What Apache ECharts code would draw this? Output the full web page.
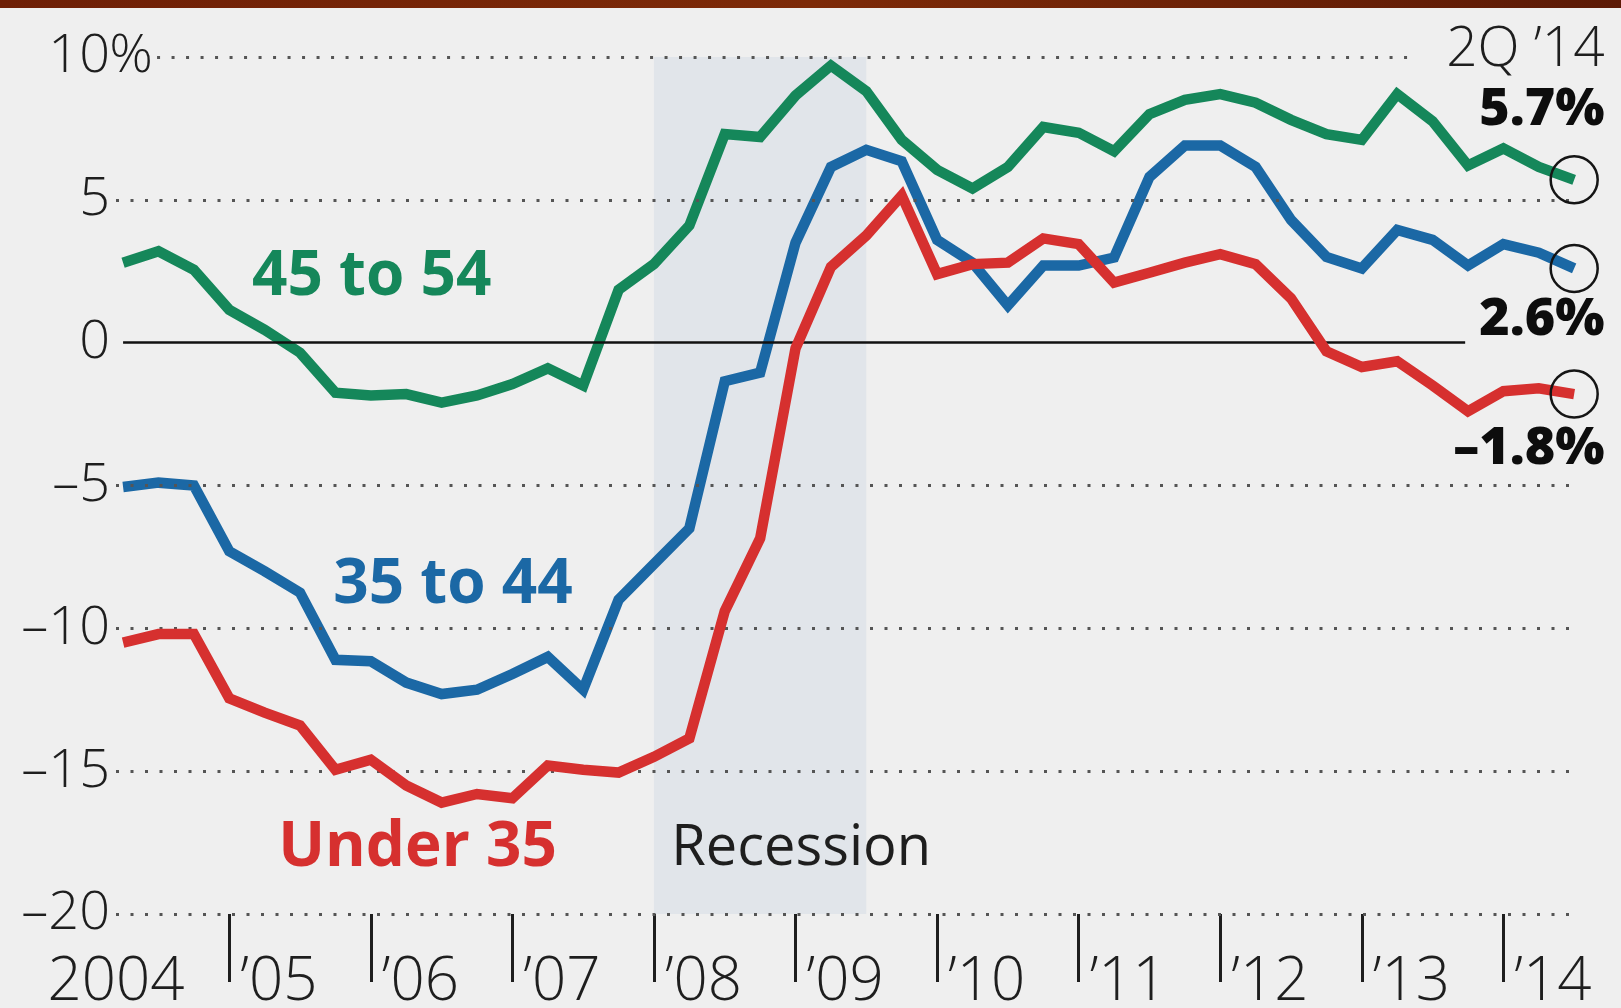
<!DOCTYPE html>
<html>
<head>
<meta charset="utf-8">
<script src="https://cdn.jsdelivr.net/npm/echarts@6/dist/echarts.min.js"></script>
<style>
html,body{margin:0;padding:0;background:#efefef;}
#chart{width:1621px;height:1008px;}
</style>
</head>
<body>
<div id="chart"></div>
<script>
// ---- data (quarterly, 1Q 2004 .. 2Q 2014), % change ----
const yearLabels = ['2004', '\u201905', '\u201906', '\u201907', '\u201908', '\u201909', '\u201910', '\u201911', '\u201912', '\u201913', '\u201914'];
const yTickValues = [-20, -15, -10, -5, 0, 5, 10];
const seriesNames = ['45 to 54', '35 to 44', 'Under 35'];
const age45to54 = [2.8, 3.2, 2.55, 1.15, 0.45, -0.35, -1.75, -1.85, -1.8, -2.1, -1.85, -1.45, -0.9, -1.5,
  1.85, 2.75, 4.1, 7.3, 7.2, 8.65, 9.7, 8.8, 7.1, 6.05, 5.4, 6.15, 7.55, 7.35, 6.7, 8.0, 8.5, 8.7, 8.4,
  7.8, 7.3, 7.1, 8.7, 7.75, 6.2, 6.8, 6.15, 5.7];
const age35to44 = [-5.05, -4.9, -5.0, -7.3, -8.0, -8.75, -11.1, -11.15, -11.9, -12.3, -12.15, -11.6, -11.0, -12.15,
  -9.0, -7.75, -6.5, -1.35, -1.05, 3.5, 6.15, 6.75, 6.35, 3.6, 2.8, 1.3, 2.7, 2.7, 2.98, 5.8, 6.9, 6.9, 6.15,
  4.3, 3.0, 2.6, 3.95, 3.6, 2.7, 3.45, 3.15, 2.6];
const under35 = [-10.5, -10.2, -10.2, -12.45, -12.95, -13.4, -14.95, -14.6, -15.5, -16.1, -15.8, -15.95, -14.8, -14.95,
  -15.05, -14.5, -13.85, -9.4, -6.85, -0.2, 2.65, 3.75, 5.15, 2.4, 2.75, 2.8, 3.65, 3.45, 2.1, 2.45, 2.8, 3.1, 2.75,
  1.55, -0.3, -0.85, -0.65, -1.5, -2.4, -1.7, -1.6, -1.8];
const latestLabels = ['5.7%', '2.6%', '\u20131.8%'];
const latestQuarterLabel = '2Q \u201914';
const recession = [2008.0, 2009.5];
const firstYear = 2004;

// ---- styling ----
const GREEN = '#15875a', BLUE = '#1b68a5', RED = '#d6302f';
const FONT = "'Open Sans', 'DejaVu Sans', sans-serif";
const BG = '#efefef';
const INK = '#1e1e1e';

// quarterly points placed at end of each quarter
const toPoints = vals => vals.map((v, i) => [firstYear + (i + 1) / 4, v]);
const lastX = firstYear + age45to54.length / 4;

const years = yearLabels.map((_, i) => firstYear + i);
const labelYear = v => Math.round(v - 0.3);

function gridLine(y, x0, x1) {
  return [{ coord: [x0, y] }, { coord: [x1, y] }];
}
const dotted = { color: '#555', width: 3, type: [3, 11.5], cap: 'butt' };

const chart = echarts.init(document.getElementById('chart'), null, { renderer: 'canvas' });

const lineSeries = (name, data, color, z) => ({
  name, type: 'line', data: toPoints(data), z,
  showSymbol: false, symbol: 'none', smooth: false,
  lineStyle: { color, width: 10.5, join: 'miter', cap: 'butt' },
  emphasis: { disabled: true }, silent: true, animation: false
});

const textItem = (x, y, text, style) => ({
  value: [x, y],
  label: Object.assign({ show: true, formatter: text, position: 'inside', fontFamily: FONT }, style)
});

const option = {
  backgroundColor: BG,
  animation: false,
  grid: { left: 116, right: 44, top: 57, bottom: 94, containLabel: false, outerBoundsMode: 'none' },
  xAxis: {
    type: 'value', min: 2004.2, max: 2014.52,
    axisLine: { show: false, onZero: false },
    splitLine: { show: false },
    axisTick: {
      show: true, customValues: years.slice(1), length: 68, inside: false,
      lineStyle: { color: INK, width: 3 }
    },
    axisLabel: {
      show: true,
      customValues: years.map((y, i) => i === 0 ? 2004.2 : y + 0.35),
      formatter: v => yearLabels[labelYear(v) - firstYear],
      fontFamily: FONT, fontSize: 60, fontWeight: 300, color: INK,
      margin: 39, align: 'center', hideOverlap: false
    }
  },
  yAxis: {
    type: 'value', min: -20, max: 10, interval: 5,
    axisLine: { show: false }, axisTick: { show: false }, splitLine: { show: false },
    axisLabel: {
      margin: 6,
      fontFamily: FONT, fontSize: 54, fontWeight: 300, color: INK,
      formatter: v => (v < 0 ? '\u2013' + (-v) : String(v))
    }
  },
  series: [
    {
      name: 'recession', type: 'line', data: [], z: 0, silent: true,
      markArea: {
        silent: true,
        itemStyle: { color: '#e1e5ea' },
        data: [[{ coord: [recession[0], 10] }, { coord: [recession[1], -20] }]]
      }
    },
    {
      name: 'grid', type: 'line', data: [], z: 1, silent: true,
      markLine: {
        silent: true, symbol: ['none', 'none'], label: { show: false },
        lineStyle: dotted,
        data: [
          gridLine(10, 2004.49, 2013.34),
          gridLine(5, 2004.2, lastX),
          gridLine(-5, 2004.2, lastX),
          gridLine(-10, 2004.2, lastX),
          gridLine(-15, 2004.2, lastX),
          gridLine(-20, 2004.2, lastX)
        ]
      }
    },
    lineSeries(seriesNames[0], age45to54, GREEN, 3),
    lineSeries(seriesNames[1], age35to44, BLUE, 4),
    lineSeries(seriesNames[2], under35, RED, 5),
    {
      name: 'zero', type: 'line', data: [], z: 6, silent: true,
      markLine: {
        silent: true, symbol: ['none', 'none'], label: { show: false },
        lineStyle: { color: '#111', width: 2.5, type: 'solid' },
        data: [gridLine(0, firstYear + 0.25, 2013.73)]
      }
    },
    {
      name: 'latest', type: 'scatter', z: 7, silent: true, clip: false,
      symbol: 'circle', symbolSize: 47,
      itemStyle: { color: 'rgba(0,0,0,0)', borderColor: '#151515', borderWidth: 2.5, opacity: 1 },
      data: [
        [lastX, age45to54[age45to54.length - 1]],
        [lastX, age35to44[age35to44.length - 1]],
        [lastX, under35[under35.length - 1]]
      ]
    },
    {
      name: 'annotations', type: 'scatter', z: 8, silent: true, clip: false,
      symbolSize: 1, itemStyle: { color: 'rgba(0,0,0,0)', opacity: 1 },
      data: [
        textItem(2004.152, 10, '%', { color: INK, fontSize: 54, fontWeight: 300, align: 'left' }),
        textItem(2006.006, 2.28, seriesNames[0], { color: GREEN, fontSize: 62, fontWeight: 'bold' }),
        textItem(2006.58, -8.5, seriesNames[1], { color: BLUE, fontSize: 62, fontWeight: 'bold' }),
        textItem(2006.33, -17.7, seriesNames[2], { color: RED, fontSize: 62, fontWeight: 'bold' }),
        textItem(2009.04, -17.73, 'Recession', { color: INK, fontSize: 56, fontWeight: 400 }),
        textItem(2014.715, 10.23, latestQuarterLabel, { color: INK, fontSize: 55, fontWeight: 300, align: 'right' }),
        textItem(2014.715, 8.13, latestLabels[0], { color: '#0d0d0d', fontSize: 52, fontWeight: 800, align: 'right' }),
        textItem(2014.715, 0.77, latestLabels[1], { color: '#0d0d0d', fontSize: 52, fontWeight: 800, align: 'right' }),
        textItem(2014.715, -3.72, latestLabels[2], { color: '#0d0d0d', fontSize: 52, fontWeight: 800, align: 'right' })
      ]
    }
  ],
  graphic: [
    {
      type: 'rect', z: 100, silent: true,
      shape: { x: 0, y: 0, width: 1621, height: 8 },
      style: {
        fill: new echarts.graphic.LinearGradient(0, 0, 1, 0, [
          { offset: 0, color: '#6e1f06' }, { offset: 0.5, color: '#7d2a08' }, { offset: 1, color: '#5c1a06' }
        ])
      }
    }
  ]
};
chart.setOption(option);
</script>
</body>
</html>
